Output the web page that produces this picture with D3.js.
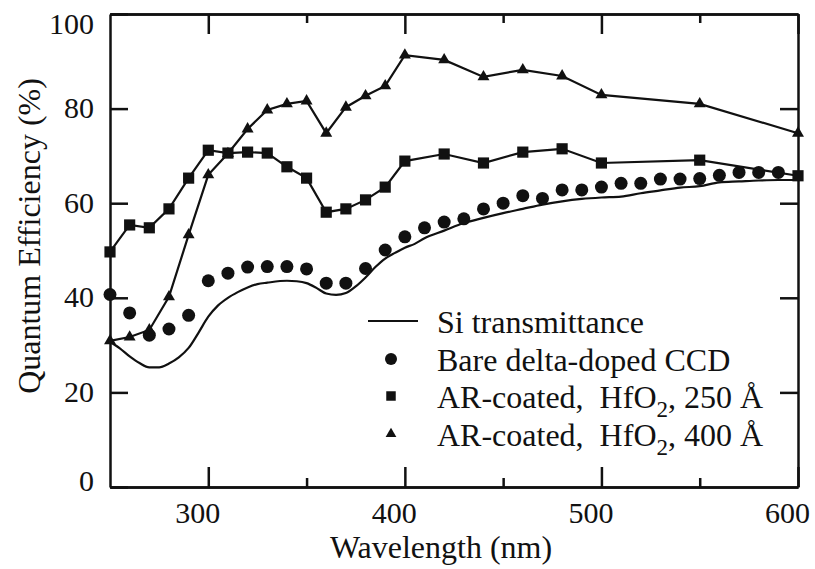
<!DOCTYPE html>
<html>
<head>
<meta charset="utf-8">
<script src="https://cdn.jsdelivr.net/npm/d3@7"></script>
<style>
  body { margin: 0; background: #fff; }
  text { font-family: "Liberation Serif", "Times New Roman", serif; fill: #111; }
</style>
</head>
<body>
<div id="chart-area"></div>
<script>
// data
const siWavelength = [250,255,260,265,270,275,280,285,290,295,300,305,310,315,320,325,330,340,345,350,355,360,365,370,375,380,385,390,395,400,405,410,420,430,440,450,460,470,480,490,500,510,520,530,540,550,560,570,580,590,600];
const siTransmittance = [30.7,29.3,27.6,26.2,25.3,25.3,26.1,27.4,29.4,32.6,36.0,38.4,40.0,41.2,42.2,42.9,43.2,43.6,43.5,43.1,42.1,40.9,40.6,41.0,42.4,44.3,46.5,48.3,49.5,50.6,51.4,52.6,54.2,55.8,56.9,57.9,58.8,59.7,60.4,60.9,61.2,61.4,62.1,62.7,63.3,63.6,64.4,64.6,64.8,64.9,64.9];

const bareWavelength = [250,260,270,280,290,300,310,320,330,340,350,360,370,380,390,400,410,420,430,440,450,460,470,480,490,500,510,520,530,540,550,560,570,580,590];
const bareQE = [40.7,36.8,32.1,33.4,36.3,43.6,45.2,46.5,46.6,46.6,46.1,43.1,43.1,46.2,50.1,52.9,54.8,56.0,56.7,58.8,60.0,61.6,61.0,62.8,62.8,63.4,64.2,64.2,65.1,65.1,65.2,65.9,66.5,66.5,66.5];

const coatedWavelength = [250,260,270,280,290,300,310,320,330,340,350,360,370,380,390,400,420,440,460,480,500,550,600];
const hf250QE = [49.7,55.4,54.8,58.8,65.3,71.2,70.6,70.8,70.6,67.7,65.3,58.1,58.8,60.7,63.4,68.9,70.4,68.5,70.8,71.5,68.5,69.1,65.8];
const hf400QE = [30.9,31.7,33.2,40.2,53.3,66.0,70.5,75.7,79.7,81.0,81.6,74.8,80.3,82.7,84.8,91.3,90.3,86.7,88.2,86.9,82.9,81.0,74.8];

const xMajorTicks = [300,400,500,600];
const xMinorTicks = [350,450,550];
const yTicks = [0,20,40,60,80,100];
const legendLabels = ["Si transmittance", "Bare delta-doped CCD", "AR-coated,  HfO|2|, 250 Å", "AR-coated,  HfO|2|, 400 Å"];

// set the dimensions and margins of the graph
const margin = {top: 14, right: 17, bottom: 82, left: 110},
    width = 815 - margin.left - margin.right,
    height = 569 - margin.top - margin.bottom;

const svg = d3.select("#chart-area")
    .append("svg")
    .attr("width", width + margin.left + margin.right)
    .attr("height", height + margin.top + margin.bottom)
    .append("g")
    .attr("transform", `translate(${margin.left},${margin.top})`);

const x = d3.scaleLinear().domain([250, 600]).range([0, width]);
const y = d3.scaleLinear().domain([0, 100]).range([height, 0]);

// axes (ticks point inward on all four sides)
function styleAxis(g) {
    g.selectAll("path, line").attr("stroke", "#111").attr("stroke-width", 2.5);
}

svg.append("g")
    .attr("transform", `translate(0,${height})`)
    .call(d3.axisBottom(x).tickValues(xMajorTicks).tickSize(-20).tickSizeOuter(0).tickFormat(d3.format("d")))
    .call(styleAxis)
    .call(g => g.selectAll("text")
        .attr("y", 36).attr("dy", 0).attr("dx", -11)
        .style("font-size", "30px").style("font-family", "Liberation Serif"));

svg.append("g")
    .attr("transform", `translate(0,${height})`)
    .call(d3.axisBottom(x).tickValues(xMinorTicks).tickSize(-9).tickSizeOuter(0).tickFormat(""))
    .call(styleAxis);

svg.append("g")
    .call(d3.axisTop(x).tickValues(xMajorTicks).tickSize(-20).tickSizeOuter(0).tickFormat(""))
    .call(styleAxis);

svg.append("g")
    .call(d3.axisTop(x).tickValues(xMinorTicks).tickSize(-9).tickSizeOuter(0).tickFormat(""))
    .call(styleAxis);

svg.append("g")
    .call(d3.axisLeft(y).tickValues(yTicks).tickSize(-18).tickSizeOuter(0).tickPadding(16))
    .call(styleAxis)
    .call(g => g.selectAll("text")
        .attr("dy", d => d === 100 ? "0.65em" : d === 0 ? "0.1em" : "0.3em")
        .style("font-size", "30px").style("font-family", "Liberation Serif"));

svg.append("g")
    .attr("transform", `translate(${width},0)`)
    .call(d3.axisRight(y).tickValues(yTicks.slice(1, -1)).tickSize(-18).tickSizeOuter(0).tickFormat(""))
    .call(styleAxis);

// axis titles
svg.append("text")
    .attr("x", x(425) - 13)
    .attr("y", 544)
    .attr("text-anchor", "middle")
    .style("font-size", "32px")
    .text("Wavelength (nm)");

svg.append("text")
    .attr("transform", `translate(${40 - margin.left},${236 - margin.top}) rotate(-90)`)
    .attr("text-anchor", "middle")
    .style("font-size", "32px")
    .text("Quantum Efficiency (%)");

// Si transmittance (smooth curve, no markers)
const siData = siWavelength.map((w, i) => ({w: w, v: siTransmittance[i]}));
svg.append("path")
    .datum(siData)
    .attr("fill", "none")
    .attr("stroke", "#111")
    .attr("stroke-width", 2.2)
    .attr("d", d3.line().curve(d3.curveMonotoneX).x(d => x(d.w)).y(d => y(d.v)));

// coated series: straight segments + markers
const hf250 = coatedWavelength.map((w, i) => ({w: w, v: hf250QE[i]}));
const hf400 = coatedWavelength.map((w, i) => ({w: w, v: hf400QE[i]}));
const straight = d3.line().x(d => x(d.w)).y(d => y(d.v));

[hf250, hf400].forEach(series => {
    svg.append("path")
        .datum(series)
        .attr("fill", "none")
        .attr("stroke", "#111")
        .attr("stroke-width", 2.2)
        .attr("d", straight);
});

// bare CCD dots
const bare = bareWavelength.map((w, i) => ({w: w, v: bareQE[i]}));
svg.selectAll(".dot")
    .data(bare)
    .enter().append("circle")
    .attr("class", "dot")
    .attr("cx", d => x(d.w))
    .attr("cy", d => y(d.v))
    .attr("r", 6.5)
    .attr("fill", "#111");

svg.selectAll(".sq")
    .data(hf250)
    .enter().append("path")
    .attr("class", "sq")
    .attr("transform", d => `translate(${x(d.w)},${y(d.v)})`)
    .attr("d", d3.symbol().type(d3.symbolSquare).size(125))
    .attr("fill", "#111");

svg.selectAll(".tri")
    .data(hf400)
    .enter().append("path")
    .attr("class", "tri")
    .attr("transform", d => `translate(${x(d.w)},${y(d.v)})`)
    .attr("d", d3.symbol().type(d3.symbolTriangle).size(62))
    .attr("fill", "#111");

// legend
const legend = svg.append("g");
const rowY = [321, 359, 396, 434].map(v => v - margin.top);
const markX = 391 - margin.left;

legend.append("line")
    .attr("x1", 368 - margin.left).attr("x2", 418 - margin.left)
    .attr("y1", rowY[0]).attr("y2", rowY[0])
    .attr("stroke", "#111").attr("stroke-width", 2.2);
legend.append("circle")
    .attr("cx", markX).attr("cy", rowY[1]).attr("r", 6)
    .attr("fill", "#111");
legend.append("path")
    .attr("transform", `translate(${markX},${rowY[2]})`)
    .attr("d", d3.symbol().type(d3.symbolSquare).size(90))
    .attr("fill", "#111");
legend.append("path")
    .attr("transform", `translate(${markX},${rowY[3]})`)
    .attr("d", d3.symbol().type(d3.symbolTriangle).size(50))
    .attr("fill", "#111");

legendLabels.forEach((label, i) => {
    const t = legend.append("text")
        .attr("x", 437 - margin.left)
        .attr("y", rowY[i] + 12)
        .attr("xml:space", "preserve")
        .style("white-space", "pre")
        .style("font-size", "32px");
    label.split("|").forEach((part, j) => {
        const s = t.append("tspan").text(part);
        if (j === 1) s.attr("dy", 9).style("font-size", "23px");
        if (j === 2) s.attr("dy", -9);
    });
});
</script>
</body>
</html>
